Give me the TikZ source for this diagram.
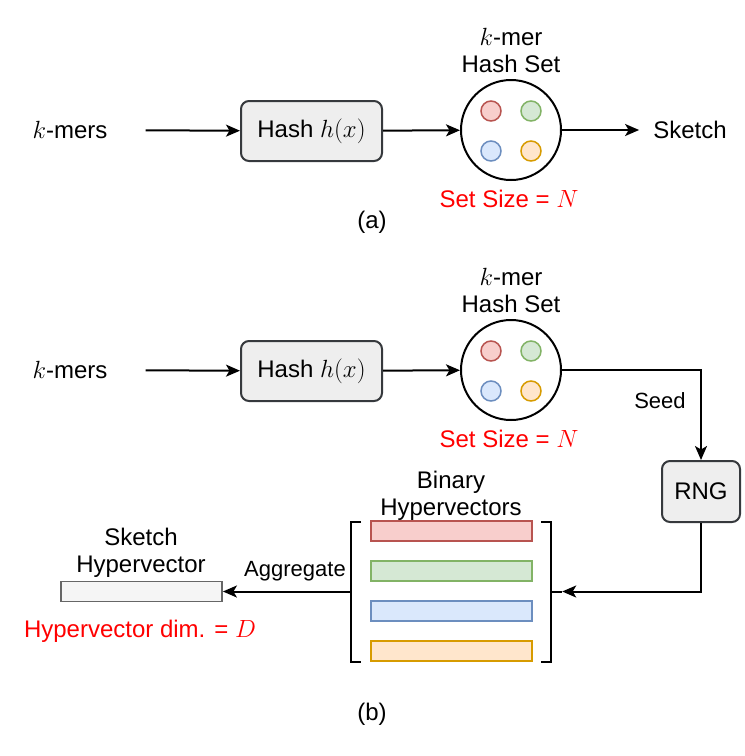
\documentclass[tikz,border=0pt]{standalone}
\usepackage{fontspec}
\setmainfont{Liberation Sans}
\usetikzlibrary{arrows.meta}
\definecolor{rS}{HTML}{B85450}\definecolor{rF}{HTML}{F8CECC}
\definecolor{gS}{HTML}{82B366}\definecolor{gF}{HTML}{D5E8D4}
\definecolor{bS}{HTML}{6C8EBF}\definecolor{bF}{HTML}{DAE8FC}
\definecolor{oS}{HTML}{D79B00}\definecolor{oF}{HTML}{FFE6CC}
\definecolor{boxF}{HTML}{EEEEEE}\definecolor{boxS}{HTML}{36393D}
\definecolor{skF}{HTML}{F5F5F5}\definecolor{skS}{HTML}{666666}
\definecolor{redT}{HTML}{FF0000}
\newcommand{\mth}[1]{{\fontsize{28}{28}\selectfont$#1$}}
\begin{document}
\begin{tikzpicture}[x=1pt,y=-1pt,
  lbl/.style={font=\fontsize{24}{27}\selectfont, align=center, inner sep=0pt},
  sml/.style={font=\fontsize{22}{26}\selectfont, align=center, inner sep=0pt},
  box/.style={draw=boxS, fill=boxF, rounded corners=8pt, line width=2pt, minimum width=141pt, minimum height=60pt, font=\fontsize{24}{27}\selectfont, inner sep=0pt},
  setc/.style={circle, draw=black, line width=2pt, minimum size=100pt, inner sep=0pt},
  dot/.style={circle, line width=1.5pt, minimum size=20pt, inner sep=0pt},
  bar/.style={rectangle, line width=1.8pt, minimum width=161pt, minimum height=20pt, inner sep=0pt},
  arr/.style={line width=2pt, -{Stealth[length=14pt, width=12pt, inset=3.5pt]}},
  ln/.style={line width=2pt},
  redlbl/.style={lbl, text=redT}]
\useasboundingbox (0,0) rectangle (745,756);

% ---------- (a) ----------
\node[lbl, inner xsep=38pt] (km1) at (70,130) {\mth{k}-mers};
\node[box] (hash1) at (311.5,131) {Hash \mth{h(x)}};
\node[setc] (set1) at (511,130) {};
\node[dot, draw=rS, fill=rF] (d1r) at (491,111) {};
\node[dot, draw=gS, fill=gF] (d1g) at (531,111) {};
\node[dot, draw=bS, fill=bF] (d1b) at (491,151) {};
\node[dot, draw=oS, fill=oF] (d1o) at (531,151) {};
\node[lbl] (t1) at (511,50) {\mth{k}-mer\\Hash Set};
\node[lbl, inner xsep=14pt] (sketch) at (690,130) {Sketch};
\node[redlbl] (ss1) at (509,199) {Set Size = \mth{N}};
\node[lbl] (la) at (372,222) {(a)};
\draw[arr] (km1) -- (hash1);
\draw[arr] (hash1) -- (set1);
\draw[arr] (set1) -- (sketch);

% ---------- (b) ----------
\node[lbl, inner xsep=38pt] (km2) at (70,370) {\mth{k}-mers};
\node[box] (hash2) at (311.5,371) {Hash \mth{h(x)}};
\node[setc] (set2) at (511,370) {};
\node[dot, draw=rS, fill=rF] (d2r) at (491,351) {};
\node[dot, draw=gS, fill=gF] (d2g) at (531,351) {};
\node[dot, draw=bS, fill=bF] (d2b) at (491,391) {};
\node[dot, draw=oS, fill=oF] (d2o) at (531,391) {};
\node[lbl] (t2) at (511,290) {\mth{k}-mer\\Hash Set};
\node[redlbl] (ss2) at (509,439) {Set Size = \mth{N}};
\node[box, minimum width=78pt, minimum height=61pt] (rng) at (701,491.5) {RNG};
\node[sml] (seed) at (660,401) {Seed};
\draw[arr] (km2) -- (hash2);
\draw[arr] (hash2) -- (set2);
\draw[arr] (set2) -| (rng);

% hypervectors
\node[lbl] (bh) at (451,496) {Binary\\Hypervectors};
\node[bar, draw=rS, fill=rF] (hvr) at (451.5,531) {};
\node[bar, draw=gS, fill=gF] (hvg) at (451.5,571) {};
\node[bar, draw=bS, fill=bF] (hvb) at (451.5,611) {};
\node[bar, draw=oS, fill=oF] (hvo) at (451.5,651) {};
\node[minimum width=211pt, minimum height=140pt, inner sep=0pt] (hvgrp) at (456.5,591.5) {};
\draw[ln] (361,522) -- (351,522) -- (351,662) -- (361,662);
\draw[ln] (541,522) -- (551,522) -- (551,662) -- (541,662);
\draw[ln] (551,591.5) -- (562,591.5);
\draw[arr] (rng) |- (hvgrp.east);

% sketch hypervector
\node[bar, draw=skS, fill=skF] (skbar) at (141.5,591.5) {};
\node[lbl] (skl) at (141,553) {Sketch\\Hypervector};
\node[redlbl] (dim) at (140,631) {Hypervector dim. = \mth{D}};
\node[sml] (agg) at (295,571) {Aggregate};
\draw[arr] (hvgrp.west) -- (skbar);
\node[lbl] (lb) at (372,714) {(b)};
\end{tikzpicture}
\end{document}
